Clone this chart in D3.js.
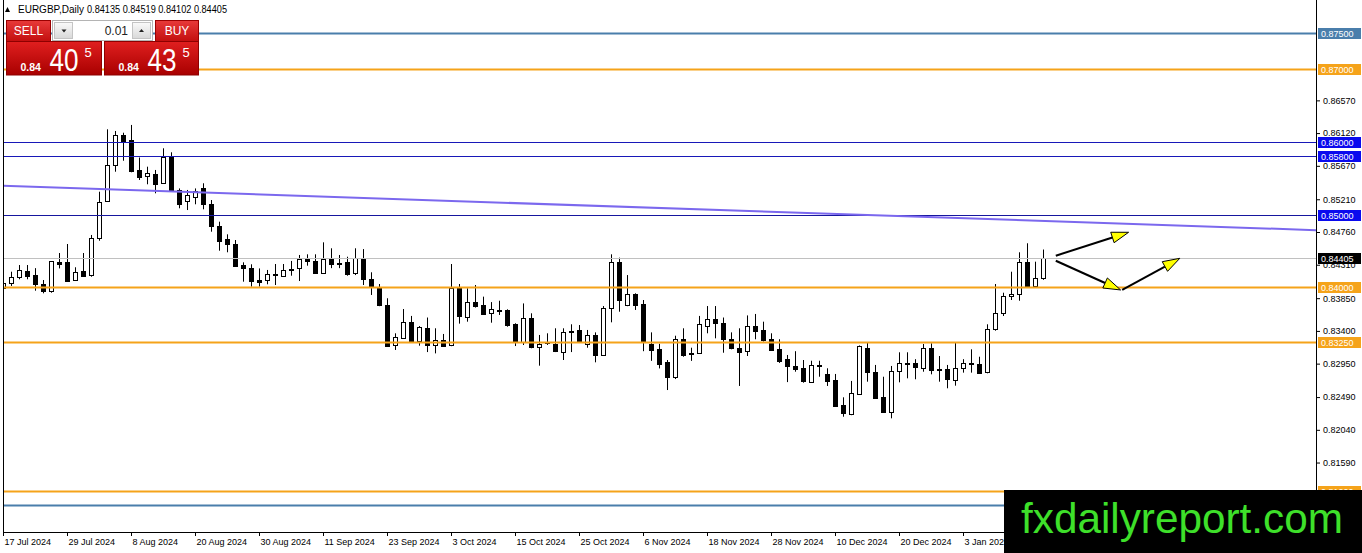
<!DOCTYPE html>
<html lang="en">
<head>
<meta charset="UTF-8">
<title>EURGBP Daily</title>
<script src="https://d3js.org/d3.v7.min.js"></script>
<style>
  body { margin: 0; background: #fff; }
  svg { display: block; font-family: "Liberation Sans", Arial, sans-serif; }
</style>
</head>
<body>
<svg id="chart" width="1362" height="553"></svg>
<script>
// daily bars, oldest first (17 Jul 2024 .. mid Jan 2025)
const opens = [
  0.83986, 0.84055, 0.84137, 0.84228, 0.84168, 0.84041, 0.83939, 0.84348, 0.84348, 0.84100,
  0.84224, 0.84159, 0.84668, 0.85182, 0.85677, 0.86094, 0.86025, 0.85613, 0.85530, 0.85555,
  0.85430, 0.85795, 0.85338, 0.85196, 0.85234, 0.85359, 0.85141, 0.84845, 0.84663, 0.84595,
  0.84306, 0.84259, 0.84100, 0.84090, 0.84183, 0.84159, 0.84242, 0.84259, 0.84398, 0.84367,
  0.84200, 0.84386, 0.84329, 0.84348, 0.84191, 0.84398, 0.84110, 0.83986, 0.83757, 0.83207,
  0.83298, 0.83527, 0.83254, 0.83440, 0.83207, 0.83275, 0.83197, 0.83986, 0.83595, 0.83796,
  0.83757, 0.83642, 0.83692, 0.83684, 0.83495, 0.83254, 0.83584, 0.83183, 0.83244, 0.83223,
  0.83121, 0.83391, 0.83413, 0.83216, 0.83344, 0.83069, 0.83711, 0.84343, 0.83747, 0.83903,
  0.83766, 0.83223, 0.83151, 0.82968, 0.82757, 0.83285, 0.83096, 0.83091, 0.83467, 0.83564,
  0.83505, 0.83285, 0.83161, 0.83121, 0.83467, 0.83413, 0.83289, 0.83147, 0.83011, 0.82918,
  0.82886, 0.82702, 0.82927, 0.82808, 0.82725, 0.82381, 0.82255, 0.82533, 0.83161, 0.82839,
  0.82495, 0.82289, 0.82849, 0.82963, 0.82955, 0.82886, 0.83161, 0.82876, 0.82872, 0.82725,
  0.82886, 0.82955, 0.82945, 0.82826, 0.83422, 0.83642, 0.83870, 0.83903, 0.84343, 0.84008,
  0.84135
];
const highs = [
  0.84114, 0.84214, 0.84306, 0.84306, 0.84263, 0.84100, 0.84357, 0.84471, 0.84595, 0.84275,
  0.84471, 0.84719, 0.85314, 0.86172, 0.86149, 0.86125, 0.86232, 0.85784, 0.85658, 0.85613,
  0.85911, 0.85856, 0.85359, 0.85338, 0.85359, 0.85430, 0.85200, 0.84902, 0.84728, 0.84650,
  0.84343, 0.84316, 0.84259, 0.84238, 0.84320, 0.84320, 0.84362, 0.84444, 0.84453, 0.84453,
  0.84618, 0.84536, 0.84444, 0.84420, 0.84536, 0.84525, 0.84206, 0.84045, 0.83849, 0.83367,
  0.83701, 0.83606, 0.83467, 0.83584, 0.83436, 0.83358, 0.84320, 0.84045, 0.83986, 0.84031,
  0.83871, 0.83796, 0.83815, 0.83697, 0.83505, 0.83778, 0.83642, 0.83344, 0.83367, 0.83436,
  0.83436, 0.83491, 0.83481, 0.83413, 0.83380, 0.83742, 0.84453, 0.84407, 0.84168, 0.83917,
  0.83825, 0.83380, 0.83223, 0.83000, 0.83334, 0.83436, 0.83169, 0.83606, 0.83742, 0.83742,
  0.83584, 0.83380, 0.83436, 0.83613, 0.83633, 0.83527, 0.83367, 0.83285, 0.83069, 0.83121,
  0.83000, 0.82990, 0.82990, 0.82886, 0.82808, 0.82487, 0.82712, 0.83200, 0.83240, 0.82932,
  0.82770, 0.82918, 0.83106, 0.83106, 0.83011, 0.83220, 0.83230, 0.83055, 0.82932, 0.83238,
  0.83011, 0.83147, 0.83045, 0.83491, 0.84045, 0.83925, 0.84214, 0.84481, 0.84605, 0.84352,
  0.84519
];
const lows = [
  0.83825, 0.84018, 0.84110, 0.84110, 0.83953, 0.83917, 0.83925, 0.84259, 0.84085, 0.84086,
  0.84145, 0.84145, 0.84640, 0.85175, 0.85589, 0.85740, 0.85581, 0.85475, 0.85416, 0.85292,
  0.85425, 0.85314, 0.85086, 0.85062, 0.85141, 0.85072, 0.84764, 0.84503, 0.84481, 0.84283,
  0.84077, 0.84009, 0.84009, 0.84041, 0.84031, 0.84145, 0.84159, 0.84086, 0.84297, 0.84191,
  0.84191, 0.84263, 0.84263, 0.84159, 0.84168, 0.84031, 0.83894, 0.83740, 0.83183, 0.83138,
  0.83289, 0.83240, 0.83197, 0.83109, 0.83091, 0.83190, 0.83190, 0.83500, 0.83527, 0.83721,
  0.83619, 0.83513, 0.83619, 0.83458, 0.83192, 0.83206, 0.83161, 0.82922, 0.83207, 0.83109,
  0.83000, 0.83109, 0.83240, 0.83169, 0.82968, 0.83060, 0.83518, 0.83664, 0.83740, 0.83688,
  0.83121, 0.82988, 0.82884, 0.82587, 0.82738, 0.83045, 0.82988, 0.83091, 0.83367, 0.83298,
  0.83100, 0.83147, 0.82643, 0.83055, 0.83285, 0.83254, 0.83129, 0.82960, 0.82696, 0.82839,
  0.82688, 0.82688, 0.82770, 0.82643, 0.82358, 0.82220, 0.82241, 0.82519, 0.82702, 0.82464,
  0.82275, 0.82198, 0.82693, 0.82748, 0.82735, 0.82839, 0.82803, 0.82702, 0.82611, 0.82647,
  0.82826, 0.82826, 0.82817, 0.82817, 0.83403, 0.83605, 0.83825, 0.83815, 0.84000, 0.84000,
  0.84102
];
const closes = [
  0.84055, 0.84137, 0.84238, 0.84159, 0.84045, 0.83949, 0.84357, 0.84316, 0.84090, 0.84206,
  0.84159, 0.84673, 0.85168, 0.85677, 0.86094, 0.86015, 0.85603, 0.85512, 0.85567, 0.85416,
  0.85787, 0.85338, 0.85141, 0.85275, 0.85321, 0.85141, 0.84833, 0.84640, 0.84591, 0.84297,
  0.84263, 0.84077, 0.84077, 0.84178, 0.84168, 0.84242, 0.84255, 0.84386, 0.84353, 0.84200,
  0.84388, 0.84320, 0.84316, 0.84178, 0.84398, 0.84110, 0.84009, 0.83747, 0.83197, 0.83312,
  0.83518, 0.83254, 0.83450, 0.83207, 0.83275, 0.83197, 0.83986, 0.83595, 0.83796, 0.83747,
  0.83633, 0.83697, 0.83684, 0.83481, 0.83249, 0.83584, 0.83183, 0.83223, 0.83230, 0.83121,
  0.83391, 0.83400, 0.83249, 0.83344, 0.83069, 0.83711, 0.84343, 0.83825, 0.83903, 0.83757,
  0.83240, 0.83147, 0.82949, 0.82757, 0.83285, 0.83069, 0.83087, 0.83491, 0.83564, 0.83505,
  0.83285, 0.83161, 0.83100, 0.83467, 0.83403, 0.83275, 0.83138, 0.82983, 0.82908, 0.82876,
  0.82702, 0.82932, 0.82908, 0.82716, 0.82368, 0.82267, 0.82541, 0.83193, 0.82825, 0.82480,
  0.82289, 0.82849, 0.82955, 0.82949, 0.82900, 0.83161, 0.82853, 0.82863, 0.82735, 0.82894,
  0.82955, 0.82941, 0.82826, 0.83422, 0.83642, 0.83880, 0.83903, 0.84343, 0.84008, 0.84123,
  0.84405
];

// time labels, one every 8 bars
const xLabels = ["17 Jul 2024", "29 Jul 2024", "8 Aug 2024", "20 Aug 2024", "30 Aug 2024",
  "11 Sep 2024", "23 Sep 2024", "3 Oct 2024", "15 Oct 2024", "25 Oct 2024", "6 Nov 2024",
  "18 Nov 2024", "28 Nov 2024", "10 Dec 2024", "20 Dec 2024", "3 Jan 2025"];
const labelStep = 8;

const yTicks = [0.86570, 0.86120, 0.85670, 0.85210, 0.84760, 0.84310, 0.83850,
  0.83400, 0.82950, 0.82490, 0.82040, 0.81590];

// horizontal levels drawn on the chart
const levelPrices = [0.875, 0.870, 0.860, 0.858, 0.850, 0.840, 0.8325, 0.812, 0.810];
const levelKinds  = ["steel", "orange", "blue", "blue", "navy", "orange", "orange", "orange", "steel"];

// trendline anchors [bar index, price]
const trendPts = [[0, 0.85395], [130, 0.84912]];

// forecast arrows [[from], [to]] as [bar index, price]
const arrows = [
  [[131.6, 0.84434], [140.7, 0.84756]],
  [[131.6, 0.84365], [139.7, 0.83963]],
  [[139.9, 0.83963], [147.1, 0.84398]]
];

const symbol = "EURGBP", period = "Daily";
const sellPrice = ["0.84", "40", "5"], buyPrice = ["0.84", "43", "5"];
const lotSize = "0.01";

const kindStyle = {
  steel:  { line: "#4a7eab", width: 2, box: "#4a7eab" },
  orange: { line: "#f5a31a", width: 2, box: "#f5a31a" },
  blue:   { line: "#1818b8", width: 1, box: "#0a0aee" },
  navy:   { line: "#16169e", width: 1, box: "#0a0aee" }
};

const svg = d3.select("#chart");
const L = 3, R = 1316, B = 532;

const x = d3.scaleLinear().domain([0, 130]).range([3, 1043]);
const y = d3.scaleLinear().domain([0.80635, 0.87950]).range([B, 0]);
const fmt = d3.format(".5f");

const defs = svg.append("defs");
defs.append("clipPath").attr("id", "plot")
  .append("rect").attr("x", L).attr("y", 0).attr("width", R - L).attr("height", B);

function vgrad(id, top, bottom) {
  const g = defs.append("linearGradient").attr("id", id)
    .attr("x1", 0).attr("y1", 0).attr("x2", 0).attr("y2", 1);
  g.append("stop").attr("offset", "0%").attr("stop-color", top);
  g.append("stop").attr("offset", "100%").attr("stop-color", bottom);
}
vgrad("btnRed", "#e83a3a", "#c20e0e");
vgrad("priceRed", "#e01f1f", "#a80000");
vgrad("btnGray", "#fafafa", "#d8d8d8");

// candles
const bars = opens.map((o, i) => ({ i, o, h: highs[i], l: lows[i], c: closes[i] }));
const cg = svg.append("g").attr("clip-path", "url(#plot)");
const cx = d => Math.round(x(d.i)) + 0.5;

cg.selectAll(".wick").data(bars).join("line")
  .attr("class", "wick")
  .attr("x1", cx).attr("x2", cx)
  .attr("y1", d => y(d.h)).attr("y2", d => y(d.l))
  .attr("stroke", "#000").attr("stroke-width", 1);

cg.selectAll(".body").data(bars).join("rect")
  .attr("class", "body")
  .attr("x", d => cx(d) - 2)
  .attr("width", 4)
  .attr("y", d => Math.round(y(Math.max(d.o, d.c))) + 0.5)
  .attr("height", d => Math.max(Math.round(Math.abs(y(d.o) - y(d.c))), 0.01))
  .attr("fill", d => d.c >= d.o ? "#fff" : "#000")
  .attr("stroke", "#000").attr("stroke-width", 1);

// levels, current price, trendline
const lg = svg.append("g").attr("clip-path", "url(#plot)");
lg.selectAll(".level").data(levelPrices).join("line")
  .attr("x1", L).attr("x2", R)
  .attr("y1", d => Math.round(y(d)) + 0.5).attr("y2", d => Math.round(y(d)) + 0.5)
  .attr("stroke", (d, i) => kindStyle[levelKinds[i]].line)
  .attr("stroke-width", (d, i) => kindStyle[levelKinds[i]].width);

const last = closes[closes.length - 1];
lg.append("line")
  .attr("x1", L).attr("x2", R)
  .attr("y1", Math.round(y(last)) + 0.5).attr("y2", Math.round(y(last)) + 0.5)
  .attr("stroke", "#c0c0c0");

// extend trendline over the whole plot width
const slope = (trendPts[1][1] - trendPts[0][1]) / (trendPts[1][0] - trendPts[0][0]);
const iL = x.invert(L - 4), iR = x.invert(R + 4);
lg.append("line")
  .attr("x1", x(iL)).attr("y1", y(trendPts[0][1] + slope * (iL - trendPts[0][0])))
  .attr("x2", x(iR)).attr("y2", y(trendPts[0][1] + slope * (iR - trendPts[0][0])))
  .attr("stroke", "#7b68ee").attr("stroke-width", 2);

// arrows
const ag = svg.append("g");
arrows.forEach(a => {
  const x1 = x(a[0][0]), y1 = y(a[0][1]), x2 = x(a[1][0]), y2 = y(a[1][1]);
  const ang = Math.atan2(y2 - y1, x2 - x1), len = 17, hw = 5.5;
  const bx = x2 - len * Math.cos(ang), by = y2 - len * Math.sin(ang);
  ag.append("line").attr("x1", x1).attr("y1", y1).attr("x2", bx).attr("y2", by)
    .attr("stroke", "#000").attr("stroke-width", 2);
  ag.append("path")
    .attr("d", `M${x2},${y2}L${bx + hw * Math.sin(ang)},${by - hw * Math.cos(ang)}L${bx - hw * Math.sin(ang)},${by + hw * Math.cos(ang)}Z`)
    .attr("fill", "#ffff00").attr("stroke", "#000").attr("stroke-width", 1);
});

// axes
svg.append("line").attr("x1", L + 0.5).attr("x2", L + 0.5).attr("y1", 0).attr("y2", B)
  .attr("stroke", "#000");

const xAxis = svg.append("g").attr("transform", `translate(0,${B})`)
  .call(d3.axisBottom(x)
    .tickValues(xLabels.map((_, k) => k * labelStep))
    .tickFormat(d => xLabels[d / labelStep])
    .tickSize(4).tickSizeOuter(0));
xAxis.select(".domain").attr("d", `M${L},0.5H${R}`);
xAxis.selectAll("text").attr("text-anchor", "start").attr("dx", 1)
  .attr("font-size", 9).attr("font-family", "Liberation Sans, Arial, sans-serif").attr("fill", "#000");

const yAxis = svg.append("g").attr("transform", `translate(${R},0)`)
  .call(d3.axisRight(y).tickValues(yTicks).tickFormat(fmt).tickSize(4).tickSizeOuter(0));
yAxis.select(".domain").attr("d", `M0.5,0V${B}`);
yAxis.selectAll("text").attr("font-size", 9)
  .attr("font-family", "Liberation Sans, Arial, sans-serif").attr("fill", "#000");

// price tags on the right
const tags = levelPrices.map((p, i) => ({ p, fill: kindStyle[levelKinds[i]].box }))
  .filter(d => d.p > 0.811)
  .concat([{ p: last, fill: "#000" }]);
const tg = svg.append("g");
tg.selectAll("rect").data(tags).join("rect")
  .attr("x", R + 2).attr("width", 43)
  .attr("y", d => Math.round(y(d.p)) - 5).attr("height", 11)
  .attr("fill", d => d.fill);
tg.selectAll("text").data(tags).join("text")
  .attr("x", R + 5).attr("y", d => Math.round(y(d.p)) + 4)
  .attr("font-size", 9).attr("fill", "#fff")
  .text(d => fmt(d.p));

// header
const lb = bars[bars.length - 1];
svg.append("path").attr("d", "M5,12L7.5,7L10,12Z").attr("fill", "#000");
svg.append("text").attr("x", 18).attr("y", 13).attr("font-size", 10).attr("fill", "#000")
  .text(`${symbol},${period}`);
svg.append("text").attr("x", 87).attr("y", 13).attr("font-size", 10).attr("fill", "#000")
  .attr("textLength", 140).attr("lengthAdjust", "spacingAndGlyphs")
  .text([lb.o, lb.h, lb.l, lb.c].map(fmt).join(" "));

// one-click trading panel
const pn = svg.append("g");
pn.append("rect").attr("x", 6.5).attr("y", 20.5).attr("width", 44).attr("height", 21)
  .attr("fill", "url(#btnRed)").attr("stroke", "#9a0000");
pn.append("text").attr("x", 28.5).attr("y", 35).attr("text-anchor", "middle")
  .attr("font-size", 12).attr("fill", "#fff").text("SELL");
pn.append("rect").attr("x", 155.5).attr("y", 20.5).attr("width", 43).attr("height", 21)
  .attr("fill", "url(#btnRed)").attr("stroke", "#9a0000");
pn.append("text").attr("x", 177).attr("y", 35).attr("text-anchor", "middle")
  .attr("font-size", 12).attr("fill", "#fff").text("BUY");

pn.append("rect").attr("x", 52.5).attr("y", 20.5).attr("width", 100).attr("height", 20)
  .attr("fill", "#fff").attr("stroke", "#b4b4b4");
pn.append("rect").attr("x", 54.5).attr("y", 22.5).attr("width", 18).attr("height", 16)
  .attr("fill", "url(#btnGray)").attr("stroke", "#c4c4c4");
pn.append("rect").attr("x", 132.5).attr("y", 22.5).attr("width", 18).attr("height", 16)
  .attr("fill", "url(#btnGray)").attr("stroke", "#c4c4c4");
pn.append("path").attr("d", "M61.5,29.5h5l-2.5,3z").attr("fill", "#222");
pn.append("path").attr("d", "M139,32h5l-2.5,-3z").attr("fill", "#222");
pn.append("text").attr("x", 128).attr("y", 35).attr("text-anchor", "end")
  .attr("font-size", 12).attr("fill", "#222").text(lotSize);

[[6.5, 95, sellPrice], [104.5, 94, buyPrice]].forEach(([bx, bw, parts]) => {
  pn.append("rect").attr("x", bx).attr("y", 41.5).attr("width", bw).attr("height", 33.5)
    .attr("fill", "url(#priceRed)").attr("stroke", "#8e0000");
  pn.append("text").attr("x", bx + 14).attr("y", 70.5).attr("font-size", 10.5)
    .attr("font-weight", "bold").attr("fill", "#fff").text(parts[0]);
  pn.append("text").attr("x", bx + 43).attr("y", 71).attr("font-size", 32)
    .attr("textLength", 29).attr("lengthAdjust", "spacingAndGlyphs")
    .attr("fill", "#fff").text(parts[1]);
  pn.append("text").attr("x", bx + 78).attr("y", 57).attr("font-size", 13)
    .attr("fill", "#fff").text(parts[2]);
});

// watermark
svg.append("rect").attr("x", 1004).attr("y", 490).attr("width", 358).attr("height", 63)
  .attr("fill", "#000");
svg.append("text").attr("x", 1021).attr("y", 533).attr("font-size", 42)
  .attr("textLength", 322).attr("lengthAdjust", "spacingAndGlyphs")
  .attr("fill", "#3ee02a").text("fxdailyreport.com");
</script>
</body>
</html>
